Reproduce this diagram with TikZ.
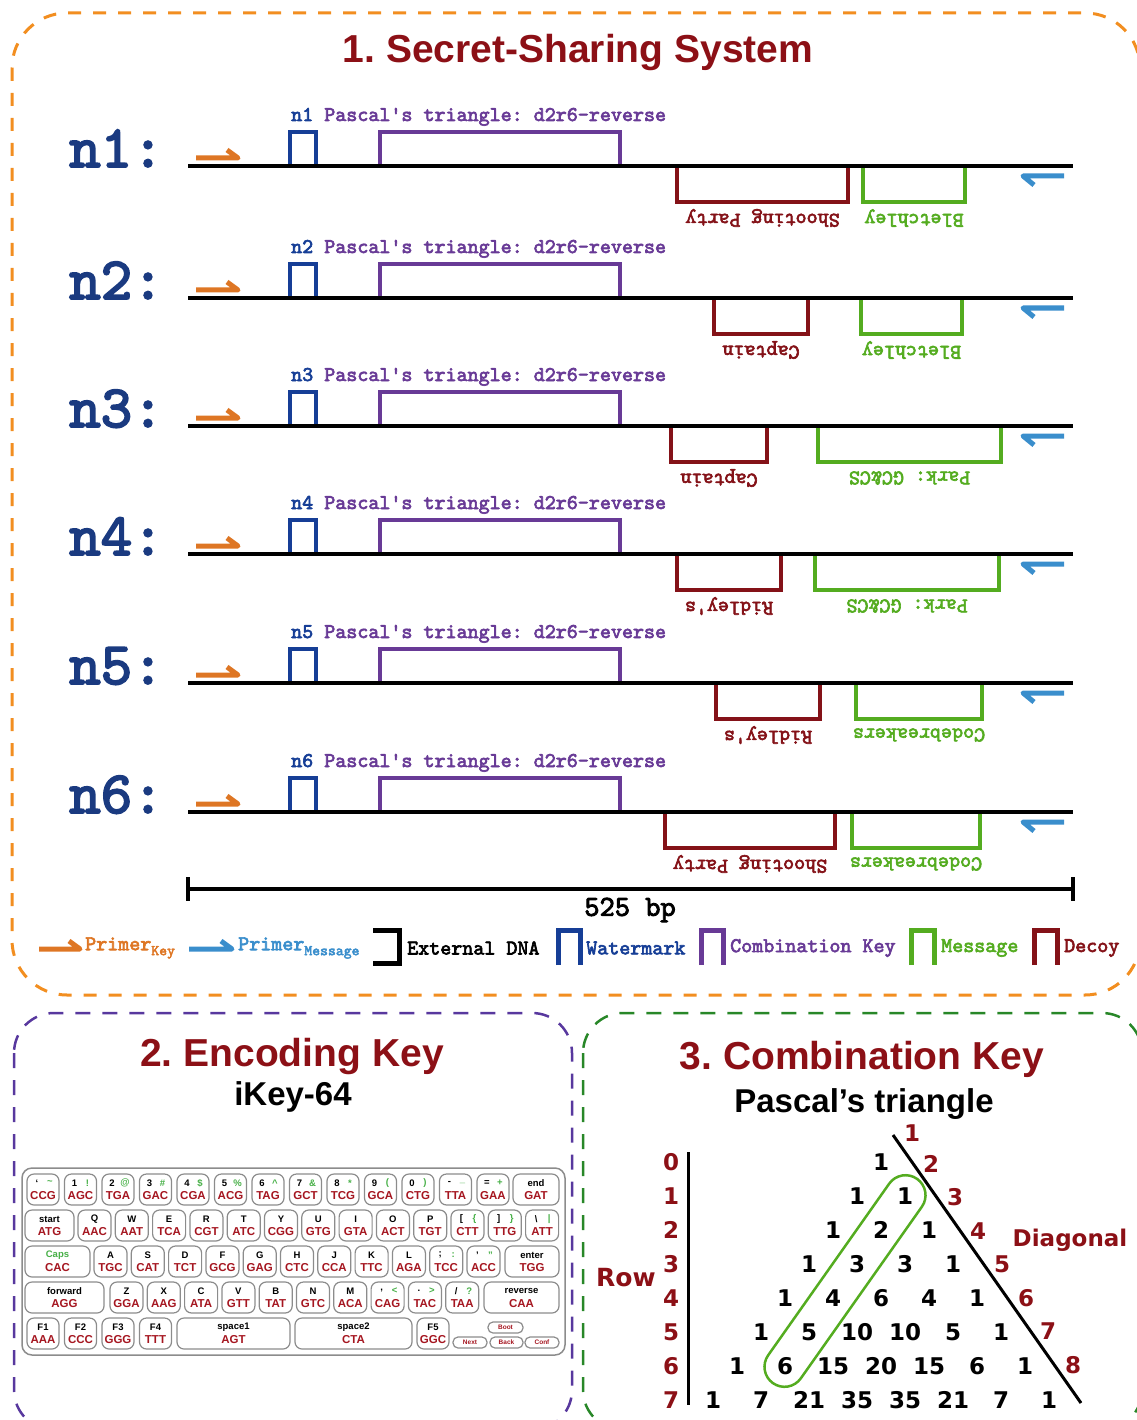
\documentclass[tikz,border=0pt]{standalone}
\usepackage{fontspec}
\setmainfont{Liberation Sans}
\newfontfamily\djv{DejaVu Sans}
\newfontfamily\monob{lmmono10-regular.otf}[FakeBold=3]
\frenchspacing

\definecolor{tred}{RGB}{140,16,22}
\definecolor{bor}{RGB}{242,142,32}
\definecolor{bpu}{RGB}{88,56,158}
\definecolor{bgr}{RGB}{40,135,40}
\definecolor{navy}{RGB}{26,58,128}
\definecolor{wmc}{RGB}{22,62,150}
\definecolor{ckc}{RGB}{104,58,150}
\definecolor{msgc}{RGB}{84,172,32}
\definecolor{dcy}{RGB}{132,18,24}
\definecolor{pko}{RGB}{222,118,36}
\definecolor{pmb}{RGB}{58,142,204}
\definecolor{kred}{RGB}{165,22,32}
\definecolor{kgrn}{RGB}{70,175,70}
\definecolor{kgray}{RGB}{140,140,140}

\tikzset{
 keyb/.style={draw=kgray, line width=1.2pt, rounded corners=7pt},
 kbk/.style={font=\fontsize{9.5}{10}\selectfont\bfseries, inner sep=0pt, text=black},
 kgn/.style={font=\fontsize{9.5}{10}\selectfont\bfseries, inner sep=0pt, text=kgrn},
 kcd/.style={font=\fontsize{11.5}{11.5}\selectfont\bfseries, inner sep=0pt, text=kred},
 kss/.style={font=\fontsize{6.5}{6.5}\selectfont\bfseries, inner sep=0pt, text=kred},
}

\newcounter{kn}
\newcommand\kk[6]{%
 \stepcounter{kn}%
 \draw[keyb] (#1,#2) rectangle ++(#3,31);
 \node[kbk] (ka\arabic{kn}) at ({#1+#3/2-6},{#2+9}) {#4};
 \node[kgn] (kb\arabic{kn}) at ({#1+#3/2+7},{#2+9}) {#5};
 \node[kcd] (kc\arabic{kn}) at ({#1+#3/2},{#2+22}) {#6};
}
\newcommand\kw[5]{%
 \stepcounter{kn}%
 \draw[keyb] (#1,#2) rectangle ++(#3,31);
 \node[kbk] (ka\arabic{kn}) at ({#1+#3/2},{#2+9}) {#4};
 \node[kcd] (kc\arabic{kn}) at ({#1+#3/2},{#2+22}) {#5};
}
\newcommand\ksm[4]{%
 \stepcounter{kn}%
 \draw[keyb, rounded corners=5pt] (#1,#2) rectangle ++(#3,11);
 \node[kss] (ka\arabic{kn}) at ({#1+#3/2},{#2+5.5}) {#4};
}

\begin{document}
\begin{tikzpicture}[x=1pt,y=-1pt,
 dna/.style={line width=4.5pt, black},
 pkey/.style={line width=5pt, pko, line join=round},
 pmsg/.style={line width=5pt, pmb, line join=round},
 wmark/.style={line width=4pt, wmc},
 comb/.style={line width=4pt, ckc},
 decoy/.style={line width=4pt, dcy},
 mesg/.style={line width=4pt, msgc},
 mono/.style={font=\monob\fontsize{21}{21}\selectfont, inner sep=0pt},
 rowlab/.style={font=\monob\fontsize{60}{60}\selectfont, text=navy, inner sep=0pt},
 ttl/.style={font=\bfseries\fontsize{39}{39}\selectfont, text=tred, inner sep=0pt},
 sub/.style={font=\bfseries\fontsize{33}{33}\selectfont, text=black, inner sep=0pt},
 tnum/.style={font=\djv\bfseries\fontsize{23}{23}\selectfont, inner sep=0pt},
 rnum/.style={font=\djv\bfseries\fontsize{23}{23}\selectfont, text=tred, inner sep=0pt},
]
\useasboundingbox (0,0) rectangle (1136,1420);

% panel frames
\draw[bor, line width=3pt, dash pattern=on 13pt off 12pt, rounded corners=55pt] (12,13) rectangle (1140,995);
\draw[bpu, line width=2.5pt, dash pattern=on 15pt off 12pt, rounded corners=40pt] (14,1013) rectangle (572,1430);
\draw[bgr, line width=2.5pt, dash pattern=on 15pt off 12pt, rounded corners=40pt] (583,1013) rectangle (1142,1430);

% titles
\node[ttl, anchor=base] (t1) at (578,63) {1. Secret-Sharing System};
\node[ttl, anchor=base] (t2) at (292,1066) {2. Encoding Key};
\node[sub, anchor=base] (t2b) at (293,1105) {iKey-64};
\node[ttl, anchor=base] (t3) at (862,1069) {3. Combination Key};
\node[sub, anchor=base] (t3b) at (864,1112) {Pascal's triangle};

% DNA rows
\foreach \y/\n/\ra/\rb/\rl/\ga/\gb/\gl in {
 166/n1/677/848/Shooting Party/863/965/Bletchley,
 298/n2/714/808/Captain/861/962/Bletchley,
 426/n3/671/767/Captain/818/1001/Park: GC\&CS,
 554/n4/677/781/Ridley's/815/999/Park: GC\&CS,
 683/n5/716/820/Ridley's/856/982/Codebreakers,
 812/n6/665/835/Shooting Party/852/980/Codebreakers}
{
 \draw[wmark] (290,\y) -- (290,\y-34) -- (316,\y-34) -- (316,\y);
 \draw[comb] (380,\y) -- (380,\y-34) -- (620,\y-34) -- (620,\y);
 \draw[decoy] (\ra,\y) -- (\ra,\y+36) -- (\rb,\y+36) -- (\rb,\y);
 \draw[mesg] (\ga,\y) -- (\ga,\y+36) -- (\gb,\y+36) -- (\gb,\y);
 \draw[dna] (188,\y) -- (1073,\y);
 \node[rowlab, anchor=base west] (lab\n) at (69,\y+1) {\n:};
 \draw[pkey] (196,\y-8) -- (238,\y-8) -- (227,\y-16);
 \draw[pmsg] (1064,\y+10) -- (1023,\y+10) -- (1034,\y+19);
 \node[mono, anchor=base west] (cap\n) at (291,\y-45) {\textcolor{wmc}{\n} \textcolor{ckc}{Pascal's triangle: d2r6-reverse}};
 \node[mono, rotate=180, text=dcy] (dl\n) at ({(\ra+\rb)/2},\y+52) {\rl};
 \node[mono, rotate=180, text=msgc] (ml\n) at ({(\ga+\gb)/2},\y+52) {\gl};
}

% scale bar
\coordinate (sbL) at (188,889);
\coordinate (sbR) at (1073,889);
\draw[line width=4pt] (sbL) -- (sbR);
\draw[line width=4pt] (188,877) -- (188,901);
\draw[line width=4pt] (1073,877) -- (1073,901);
\node[font=\monob\fontsize{29}{29}\selectfont, inner sep=0pt] (bp) at (630,910) {525 bp};

% legend
\draw[pkey] (39,949) -- (80,949) -- (69,941);
\node[mono, text=pko, anchor=west] (lgpk) at (85,948) {Primer\raisebox{-5pt}{\fontsize{15}{15}\selectfont Key}};
\draw[pmsg] (189,949) -- (232,949) -- (221,941);
\node[mono, text=pmb, anchor=west] (lgpm) at (238,948) {Primer\raisebox{-5pt}{\fontsize{15}{15}\selectfont Message}};
\draw[line width=5pt] (373,930) -- (399,930) -- (399,963) -- (373,963);
\node[mono, anchor=west] (lgex) at (407,948) {External DNA};
\draw[wmark, line width=5pt] (558,965) -- (558,930) -- (580,930) -- (580,965);
\node[mono, text=wmc, anchor=west] (lgwm) at (586,948) {Watermark};
\draw[comb, line width=5pt] (701,965) -- (701,930) -- (723,930) -- (723,965);
\node[mono, text=ckc, anchor=west] (lgck) at (730,948) {Combination Key};
\draw[mesg, line width=5pt] (911,965) -- (911,930) -- (934,930) -- (934,965);
\node[mono, text=msgc, anchor=west] (lgms) at (941,948) {Message};
\draw[decoy, line width=5pt] (1034,965) -- (1034,930) -- (1057,930) -- (1057,965);
\node[mono, text=dcy, anchor=west] (lgdc) at (1064,948) {Decoy};

% keyboard
\draw[draw=kgray, line width=1.5pt, rounded corners=10pt] (22,1168) rectangle (565,1355);
% row 1
\kk{27}{1174}{32}{`}{\textasciitilde}{CCG}
\kk{64.5}{1174}{32}{1}{!}{AGC}
\kk{102}{1174}{32}{2}{@}{TGA}
\kk{139.5}{1174}{32}{3}{\#}{GAC}
\kk{177}{1174}{32}{4}{\$}{CGA}
\kk{214.5}{1174}{32}{5}{\%}{ACG}
\kk{252}{1174}{32}{6}{\textasciicircum}{TAG}
\kk{289.5}{1174}{32}{7}{\&}{GCT}
\kk{327}{1174}{32}{8}{*}{TCG}
\kk{364.5}{1174}{32}{9}{(}{GCA}
\kk{402}{1174}{32}{0}{)}{CTG}
\kk{439.5}{1174}{32}{-}{\_}{TTA}
\kk{477}{1174}{32}{=}{+}{GAA}
\kw{513}{1174}{46}{end}{GAT}
% row 2
\kw{25}{1210}{49}{start}{ATG}
\kw{78}{1210}{33}{Q}{AAC}
\kw{115.3}{1210}{33}{W}{AAT}
\kw{152.6}{1210}{33}{E}{TCA}
\kw{189.9}{1210}{33}{R}{CGT}
\kw{227.2}{1210}{33}{T}{ATC}
\kw{264.5}{1210}{33}{Y}{CGG}
\kw{301.8}{1210}{33}{U}{GTG}
\kw{339.1}{1210}{33}{I}{GTA}
\kw{376.4}{1210}{33}{O}{ACT}
\kw{413.7}{1210}{33}{P}{TGT}
\kk{451}{1210}{33}{[}{\{}{CTT}
\kk{488.3}{1210}{33}{]}{\}}{TTG}
\kk{525.6}{1210}{33}{\textbackslash}{|}{ATT}
% row 3
\kw{25}{1246}{65}{\textcolor{kgrn}{Caps}}{CAC}
\kw{94}{1246}{33}{A}{TGC}
\kw{131.3}{1246}{33}{S}{CAT}
\kw{168.6}{1246}{33}{D}{TCT}
\kw{205.9}{1246}{33}{F}{GCG}
\kw{243.2}{1246}{33}{G}{GAG}
\kw{280.5}{1246}{33}{H}{CTC}
\kw{317.8}{1246}{33}{J}{CCA}
\kw{355.1}{1246}{33}{K}{TTC}
\kw{392.4}{1246}{33}{L}{AGA}
\kk{429.7}{1246}{33}{;}{:}{TCC}
\kk{467}{1246}{33}{'}{"}{ACC}
\kw{505}{1246}{54}{enter}{TGG}
% row 4
\kw{25}{1282}{79}{forward}{AGG}
\kw{110}{1282}{33}{Z}{GGA}
\kw{147.3}{1282}{33}{X}{AAG}
\kw{184.6}{1282}{33}{C}{ATA}
\kw{221.9}{1282}{33}{V}{GTT}
\kw{259.2}{1282}{33}{B}{TAT}
\kw{296.5}{1282}{33}{N}{GTC}
\kw{333.8}{1282}{33}{M}{ACA}
\kk{371.1}{1282}{33}{,}{<}{CAG}
\kk{408.4}{1282}{33}{.}{>}{TAC}
\kk{445.7}{1282}{33}{/}{?}{TAA}
\kw{484}{1282}{75}{reverse}{CAA}
% row 5
\kw{27}{1318}{32}{F1}{AAA}
\kw{64.5}{1318}{32}{F2}{CCC}
\kw{102}{1318}{32}{F3}{GGG}
\kw{139.5}{1318}{32}{F4}{TTT}
\kw{177}{1318}{113}{space1}{AGT}
\kw{295}{1318}{117}{space2}{CTA}
\kw{417}{1318}{32}{F5}{GGC}
\ksm{488}{1322}{35}{Boot}
\ksm{453}{1337}{34}{Next}
\ksm{490}{1337}{33}{Back}
\ksm{525}{1337}{34}{Conf}

% Pascal's triangle
\coordinate (rvA) at (688,1152);
\coordinate (rvB) at (688,1405);
\draw[line width=3pt] (rvA) -- (rvB);
\foreach \r in {0,...,7}
 \node[rnum] (rl\r) at (671,{1162+34*\r}) {\r};
\node[rnum, font=\djv\bfseries\fontsize{25}{25}\selectfont] (rowt) at (626,1278) {Row};
\foreach \r/\vals in {0/{1},1/{1,1},2/{1,2,1},3/{1,3,3,1},4/{1,4,6,4,1},5/{1,5,10,10,5,1},6/{1,6,15,20,15,6,1},7/{1,7,21,35,35,21,7,1}}
 \foreach \v [count=\k from 0] in \vals
  \node[tnum] (t\r-\k) at ({881+(\k-\r/2)*48},{1162+34*\r}) {\v};
\coordinate (dgA) at (893,1135);
\coordinate (dgB) at (1081,1403);
\draw[line width=3pt] (dgA) -- (dgB);
\foreach \d/\px/\py in {1/912/1133,2/931/1164,3/955/1197,4/978/1231,5/1002/1264,6/1026/1298,7/1048/1331,8/1073/1365}
 \node[rnum] (dg\d) at (\px,\py) {\d};
\node[rnum] (diag) at (1070,1240) {Diagonal};
\node[draw=msgc, line width=2.5pt, rounded corners=20pt, minimum width=250pt, minimum height=40pt, inner sep=0pt, rotate=54.8] (stad) at (845,1281) {};
\end{tikzpicture}
\end{document}
